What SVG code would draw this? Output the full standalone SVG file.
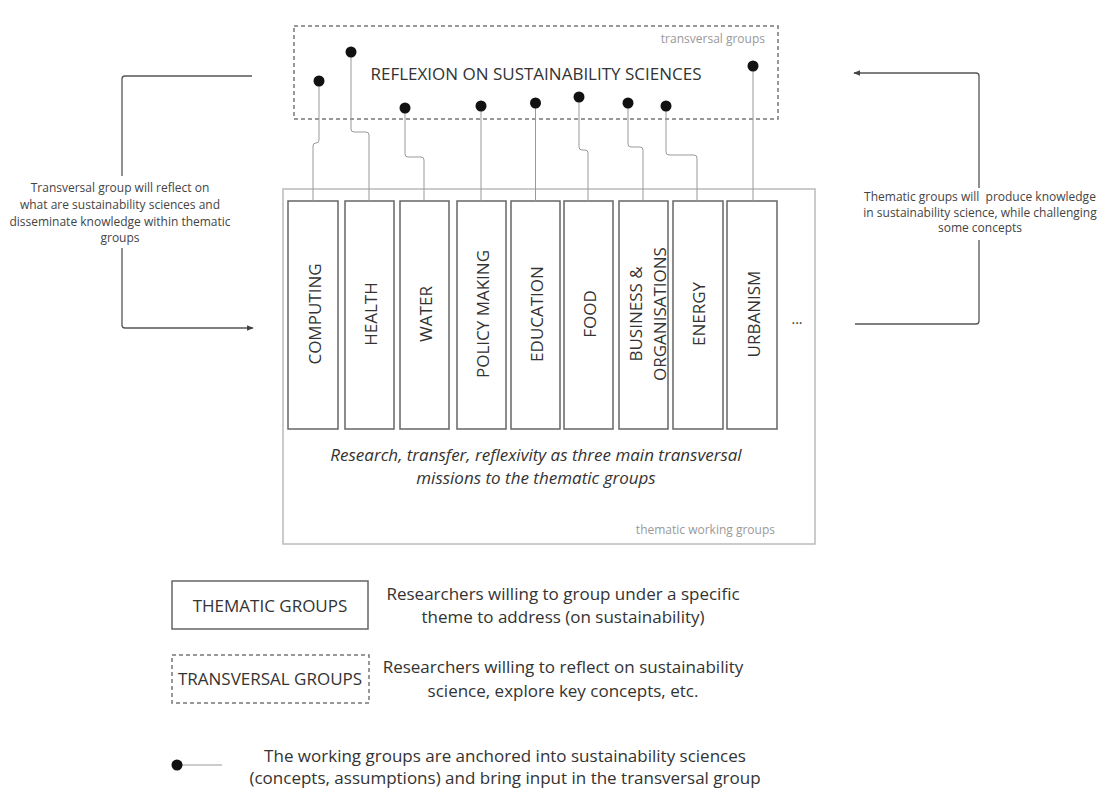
<svg xmlns="http://www.w3.org/2000/svg" width="1099" height="791" viewBox="0 0 1099 791">
<defs>
<style>
text{font-family:"Open Sans","Noto Sans","Liberation Sans",sans-serif;fill:#333}
.t17{font-size:17px}
.note{font-size:12px;fill:#444}
.lbl{font-size:12px;fill:#999}
.theme{fill:#fff;stroke:#666;stroke-width:1.5}
.cont{fill:none;stroke:#bbb;stroke-width:1.5}
.dash{fill:none;stroke:#777;stroke-width:1.5;stroke-dasharray:4 3}
.link{fill:none;stroke:#999;stroke-width:1}
.arrow{fill:none;stroke:#555;stroke-width:1.3}
.dot{fill:#111}
</style>
<marker id="ah" viewBox="0 0 10 10" refX="9" refY="5" markerWidth="7" markerHeight="7" orient="auto" markerUnits="userSpaceOnUse">
<path d="M0,1 L10,5 L0,9 z" fill="#444"/>
</marker>
</defs>
<rect width="1099" height="791" fill="#fff"/>

<g id="thematic-container">
<rect class="cont" x="283" y="189" width="532" height="355"/>
<text class="lbl" x="775" y="534" text-anchor="end">thematic working groups</text>
<text class="t17" x="536" y="461" text-anchor="middle" font-style="italic">Research, transfer, reflexivity as three main transversal</text>
<text class="t17" x="536" y="484" text-anchor="middle" font-style="italic">missions to the thematic groups</text>
<text x="797" y="324" text-anchor="middle" font-size="14">...</text>
</g>

<g id="transversal">
<rect class="dash" x="294" y="26" width="484" height="93"/>
<text class="lbl" x="765" y="43" text-anchor="end">transversal groups</text>
<text class="t17" x="536" y="80" text-anchor="middle">REFLEXION ON SUSTAINABILITY SCIENCES</text>
</g>

<g id="computing"><rect class="theme" x="288" y="201" width="50" height="228"/><text class="t17" transform="translate(321,314) rotate(-90)" text-anchor="middle">COMPUTING</text></g>
<g id="health"><rect class="theme" x="345" y="201" width="49" height="228"/><text class="t17" transform="translate(377,314) rotate(-90)" text-anchor="middle">HEALTH</text></g>
<g id="water"><rect class="theme" x="400" y="201" width="49" height="228"/><text class="t17" transform="translate(432,314) rotate(-90)" text-anchor="middle">WATER</text></g>
<g id="policy-making"><rect class="theme" x="457" y="201" width="49" height="228"/><text class="t17" transform="translate(489,314) rotate(-90)" text-anchor="middle">POLICY MAKING</text></g>
<g id="education"><rect class="theme" x="511" y="201" width="49" height="228"/><text class="t17" transform="translate(543,314) rotate(-90)" text-anchor="middle">EDUCATION</text></g>
<g id="food"><rect class="theme" x="564" y="201" width="49" height="228"/><text class="t17" transform="translate(596,314) rotate(-90)" text-anchor="middle">FOOD</text></g>
<g id="business"><rect class="theme" x="619" y="201" width="49" height="228"/><text class="t17" transform="translate(642,314) rotate(-90)" text-anchor="middle">BUSINESS &amp;</text><text class="t17" transform="translate(666,314) rotate(-90)" text-anchor="middle">ORGANISATIONS</text></g>
<g id="energy"><rect class="theme" x="673" y="201" width="50" height="228"/><text class="t17" transform="translate(705,314) rotate(-90)" text-anchor="middle">ENERGY</text></g>
<g id="urbanism"><rect class="theme" x="727" y="201" width="50" height="228"/><text class="t17" transform="translate(760,314) rotate(-90)" text-anchor="middle">URBANISM</text></g>

<g id="connectors">
<path class="link" d="M319,81 V140 Q319,143 316,143 Q313,143 313,146 V201"/>
<path class="link" d="M351,52 V129 Q351,132 354,132 H366 Q369,132 369,135 V201"/>
<path class="link" d="M405,108 V154 Q405,157 408,157 H421 Q424,157 424,160 V201"/>
<path class="link" d="M481,106 V201"/>
<path class="link" d="M535.5,103 V201"/>
<path class="link" d="M579,97 V147 Q579,150 582,150 H585 Q588,150 588,153 V201"/>
<path class="link" d="M628,103 V144 Q628,147 631,147 H640 Q643,147 643,150 V201"/>
<path class="link" d="M666,106 V152 Q666,155 669,155 H694 Q697,155 697,158 V201"/>
<path class="link" d="M753,66 V201"/>
<circle class="dot" cx="319" cy="81" r="5.5"/>
<circle class="dot" cx="351" cy="52" r="5.5"/>
<circle class="dot" cx="405" cy="108" r="5.5"/>
<circle class="dot" cx="481" cy="106" r="5.5"/>
<circle class="dot" cx="535.5" cy="103" r="5.5"/>
<circle class="dot" cx="579" cy="97" r="5.5"/>
<circle class="dot" cx="628" cy="103" r="5.5"/>
<circle class="dot" cx="666" cy="106" r="5.5"/>
<circle class="dot" cx="753" cy="66" r="5.5"/>

<path class="arrow" d="M252,76 H125 Q122,76 122,79 V176"/>
<path class="arrow" d="M122,248 V325 Q122,328 125,328 H253" marker-end="url(#ah)"/>
<path class="arrow" d="M979,188 V76 Q979,73 976,73 H854" marker-end="url(#ah)"/>
<path class="arrow" d="M979,240 V321 Q979,324 976,324 H855"/>
</g>

<g id="left-note">
<text class="note" x="120" y="192" text-anchor="middle">Transversal group will reflect on</text>
<text class="note" x="120" y="209" text-anchor="middle">what are sustainability sciences and</text>
<text class="note" x="120" y="226" text-anchor="middle">disseminate knowledge within thematic</text>
<text class="note" x="120" y="242" text-anchor="middle">groups</text>
</g>
<g id="right-note">
<text class="note" x="980" y="201" text-anchor="middle" xml:space="preserve">Thematic groups will  produce knowledge</text>
<text class="note" x="980" y="217" text-anchor="middle">in sustainability science, while challenging</text>
<text class="note" x="980" y="232" text-anchor="middle">some concepts</text>
</g>

<g id="legend-thematic">
<rect class="theme" x="172" y="581" width="196" height="48"/>
<text class="t17" x="270" y="612" text-anchor="middle">THEMATIC GROUPS</text>
<text class="t17" x="563" y="600" text-anchor="middle">Researchers willing to group under a specific</text>
<text class="t17" x="563" y="623" text-anchor="middle">theme to address (on sustainability)</text>
</g>
<g id="legend-transversal">
<rect class="dash" x="172" y="655" width="197" height="48"/>
<text class="t17" x="270" y="685" text-anchor="middle">TRANSVERSAL GROUPS</text>
<text class="t17" x="563" y="673" text-anchor="middle">Researchers willing to reflect on sustainability</text>
<text class="t17" x="563" y="697" text-anchor="middle">science, explore key concepts, etc.</text>
</g>
<g id="legend-anchor">
<line class="link" x1="177" y1="765" x2="222" y2="765"/>
<circle class="dot" cx="177" cy="765" r="5.5"/>
<text class="t17" x="505" y="762" text-anchor="middle">The working groups are anchored into sustainability sciences</text>
<text class="t17" x="505" y="784" text-anchor="middle">(concepts, assumptions) and bring input in the transversal group</text>
</g>
</svg>
